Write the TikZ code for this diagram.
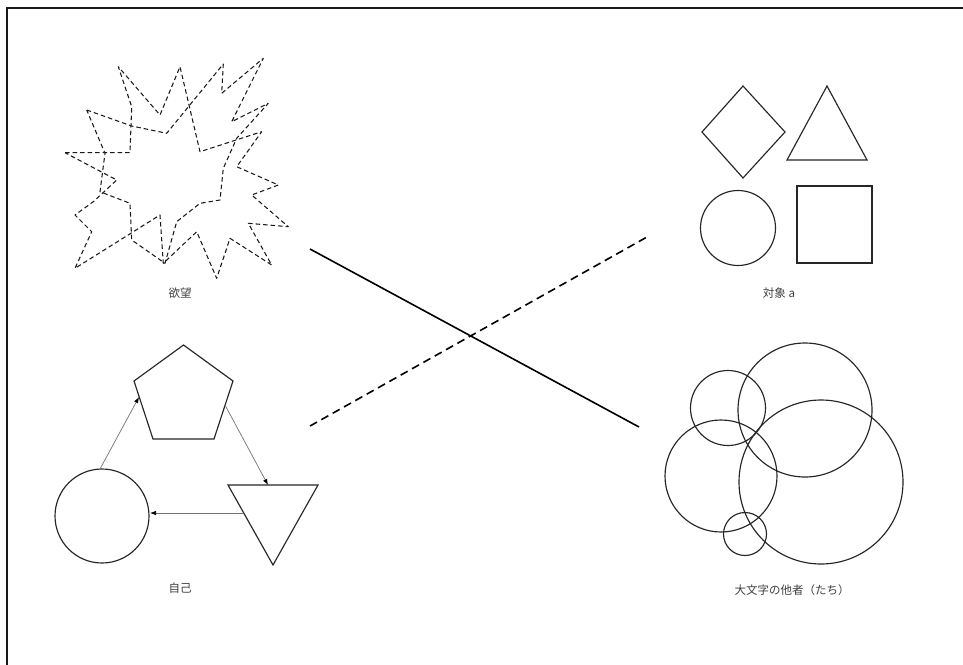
\documentclass[tikz,border=0pt]{standalone}
\usepackage{fontspec}
\newfontfamily\cjk{Noto Sans CJK JP}
\usetikzlibrary{arrows.meta}
\begin{document}
\begin{tikzpicture}[x=1pt,y=-1pt,
  shapeline/.style={draw=black!85,line width=1.15pt},
  burst/.style={draw=black!90,line width=1.05pt,dash pattern=on 4.5pt off 3pt,line join=round},
  selfarrow/.style={draw=black!55,line width=0.7pt,-{Latex[length=6pt,width=4.5pt,color=black]}},
  lbl/.style={font=\cjk\fontsize{11.5}{13}\selectfont,text=black!75,inner sep=0pt},
  crossline/.style={draw=black,line width=1.6pt}]
\useasboundingbox (0,0) rectangle (963,664);
\clip (0,0) rectangle (963,664);
\fill[white] (0,0) rectangle (963,664);
% frame
\draw[line width=2.4pt,black!90] (7,700) -- (7,8) -- (1000,8);

% desire starburst
\path[burst] (65.0,152.7) -- (130,152.7) -- (131.7,106.7) -- (118.3,66.7) -- (160,115) -- (180,66.7)
 -- (200,151.7) -- (261.7,131.7) -- (236.7,166.7) -- (278.3,185) -- (251.7,195) -- (288.3,226.7)
 -- (248.3,223.3) -- (271.7,265) -- (230,238.3) -- (216.7,278.3) -- (196.7,231.7) -- (163.3,263.3)
 -- (160,215) -- (75,268.3) -- (91.7,231.7) -- (75,215) -- (93.3,201.7) -- (116.7,180) -- cycle;
\path[burst] (86.7,110) -- (131.7,126) -- (166.7,133.3) -- (223.3,64) -- (221.7,93.3) -- (263.3,58.3)
 -- (231.7,121.7) -- (268.3,103.3) -- (236.7,138.3) -- (223.3,168.3) -- (220,200) -- (200,203.3)
 -- (176.7,221.7) -- (165,263.3) -- (131.7,240) -- (130,203.3) -- (100,191.7) -- (105,153.3) -- cycle;
\node[lbl] (desire) at (180,293) {欲望};

% object a
\path[shapeline] (743,86) -- (785,132) -- (743,178) -- (702,132) -- cycle;
\path[shapeline] (827,86) -- (867,160) -- (787,160) -- cycle;
\path[shapeline] (738,228) circle[radius=37.5];
\path[shapeline] (797,186) rectangle (872,263);
\node[lbl] (obja) at (779,293) {対象 a};

% self
\coordinate (p1) at (183.5,345);
\coordinate (p2) at (233,381);
\coordinate (p3) at (214,439);
\coordinate (p4) at (153,439);
\coordinate (p5) at (134,381);
\path[shapeline] (p1) -- (p2) -- (p3) -- (p4) -- (p5) -- cycle;
\coordinate (t1) at (228,485);
\coordinate (t2) at (318,485);
\coordinate (t3) at (273,565);
\path[shapeline] (t1) -- (t2) -- (t3) -- cycle;
\node[shapeline,circle,minimum size=94pt,inner sep=0pt] (sc) at (102,516) {};
\coordinate (a1s) at (100,469);
\coordinate (a1e) at (139,397);
\coordinate (a2s) at (225,405);
\coordinate (a2e) at (268,485);
\coordinate (a3s) at (243,513);
\coordinate (a3e) at (150,513);
\draw[selfarrow] (a1s) -- (a1e);
\draw[selfarrow] (a2s) -- (a2e);
\draw[selfarrow] (a3s) -- (a3e);
\node[lbl] (self) at (180,588) {自己};

% Other circles
\path[shapeline] (728,408) circle[radius=37.5];
\path[shapeline] (805,410) circle[radius=67];
\path[shapeline] (721,476) circle[radius=56];
\path[shapeline] (821,482) circle[radius=82];
\path[shapeline] (745,534) circle[radius=21.5];
\node[lbl] (other) at (792,590) {大文字の他者（たち）};

% cross
\coordinate (c1) at (310,249);
\coordinate (c2) at (639,427);
\coordinate (c3) at (310,426);
\coordinate (c4) at (647,237);
\draw[crossline] (c1) -- (c2);
\draw[crossline,dash pattern=on 8pt off 5pt] (c3) -- (c4);
\end{tikzpicture}
\end{document}
